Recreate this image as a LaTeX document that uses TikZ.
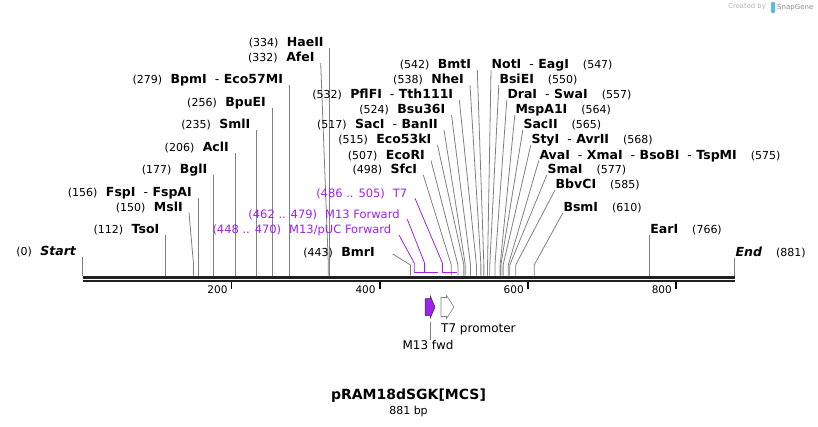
\documentclass[tikz,border=0pt]{standalone}
\usepackage{fontspec}
\setmainfont{DejaVu Sans}
\usepackage{tikz}

\definecolor{primer}{RGB}{160,32,240}
\definecolor{leadgray}{RGB}{128,128,128}
\definecolor{sgblue}{RGB}{100,180,230}
\newcommand\cutpos[1]{{\mdseries\fontsize{11}{13}\selectfont(#1)}}
\newcommand\cutsep{\hspace{8pt}{\mdseries-}\hspace{4.5pt}}

\begin{document}
\begin{tikzpicture}[
  x=1pt,y=-1pt,
  site/.style={anchor=south east,inner xsep=6pt,inner ysep=0pt,text height=9.5pt,text depth=1.1pt,font=\fontsize{12.5}{14}\selectfont\bfseries},
  siteR/.style={site,anchor=south west,inner xsep=0.5pt},
  primlab/.style={site,inner xsep=7.5pt,text=primer,font=\fontsize{11.5}{14}\selectfont},
  leader/.style={draw=leadgray,line width=0.8pt},
  pleader/.style={draw=primer,line width=0.8pt},
  feat/.style={font=\fontsize{12}{14}\selectfont,inner sep=1pt}
]
\useasboundingbox (0,0) rectangle (818,426);

\def\cutL#1#2#3{
  \coordinate (s#1) at ({82.5+0.7405*#1},275.5);
  \node[site] (l#1) at (#2) {\cutpos{#1}\hspace{8.5pt}#3};
  \draw[leader] (l#1.south east) -- (s#1 |- 0,265) -- (s#1);
}
\def\cutR#1#2#3{
  \coordinate (s#1) at ({82.5+0.7405*#1},275.5);
  \node[siteR] (l#1) at (#2) {#3\hspace{14pt}\cutpos{#1}};
  \draw[leader] (l#1.south west) -- (s#1 |- 0,265) -- (s#1);
}
\def\primerbar#1#2#3#4{
  \coordinate (p#1) at ({82.5+0.7405*#1},272.5);
  \coordinate (e#1) at ({82.5+0.7405*(#2+1)},272.5);
  \draw[primer,line width=1.8pt] (p#1) -- (e#1);
  \node[primlab] (m#1) at (#3) {(#1 .. #2)\hspace{8pt}#4};
  \draw[pleader] (m#1.south east) -- (p#1 |- 0,263) -- (p#1);
}

\cutL{0}{s0 |- 0,257}{\textit{Start}}
\cutL{112}{s112 |- 0,235}{TsoI}
\cutL{150}{189,212.5}{MslI}
\cutL{156}{s156 |- 0,198}{FspI\cutsep FspAI}
\cutL{177}{s177 |- 0,175}{BglI}
\cutL{206}{s206 |- 0,152.5}{AclI}
\cutL{235}{s235 |- 0,130}{SmlI}
\cutL{256}{s256 |- 0,107.5}{BpuEI}
\cutL{279}{s279 |- 0,85}{BpmI\cutsep Eco57MI}
\cutL{332}{320.7,63}{AfeI}
\cutL{334}{s334 |- 0,48}{HaeII}

\cutL{498}{423.3,175}{SfcI}
\cutL{507}{431,160.5}{EcoRI}
\cutL{515}{437.5,145}{Eco53kI}
\cutL{517}{444,130}{SacI\cutsep BanII}
\cutL{524}{451.5,115}{Bsu36I}
\cutL{532}{459.3,100}{PflFI\cutsep Tth111I}
\cutL{538}{470,85}{NheI}
\cutL{542}{477.3,70}{BmtI}

\cutR{547}{491,70}{NotI\cutsep EagI}
\cutR{550}{498.8,85}{BsiEI}
\cutR{557}{506.8,100}{DraI\cutsep SwaI}
\cutR{564}{514.8,115}{MspA1I}
\cutR{565}{522.8,130}{SacII}
\cutR{568}{530.8,145}{StyI\cutsep AvrII}
\cutR{575}{538.8,160.5}{AvaI\cutsep XmaI\cutsep BsoBI\cutsep TspMI}
\cutR{577}{546.8,175}{SmaI}
\cutR{585}{555,190}{BbvCI}
\cutR{610}{562.8,213}{BsmI}
\cutR{766}{s766 |- 0,235}{EarI}
\cutR{881}{s881 |- 0,258}{\textit{End}}

\coordinate (s443) at ({82.5+0.7405*443},275.5);
\node[site] (l443) at (381,258) {\cutpos{443}\hspace{8.5pt}BmrI};
\draw[leader] ([xshift=11.7pt,yshift=4pt]l443.south east) -- (s443 |- 0,265) -- (s443);

\primerbar{448}{470}{399,235}{M13/pUC Forward}
\primerbar{462}{479}{407.3,219.3}{M13 Forward}
\primerbar{486}{505}{415,198.3}{T7}

\draw[line width=2.6pt,black!87] (82.5,277.3) -- (735,277.3);
\draw[line width=1.8pt,black!87] (82.5,281) -- (735,281);

\foreach \t in {200,400,600,800}{
  \coordinate (k\t) at ({83.6+0.7405*\t},282);
  \draw[line width=1.4pt] (k\t) -- ++(0,6.5);
  \node[anchor=east,inner sep=0pt,font=\fontsize{10.5}{12}\selectfont] (n\t) at ({79.6+0.7405*\t},289.5) {\t};
}

\draw[fill=primer,draw=black!80,line width=0.5pt] (425,298.5) -- (430.3,298.5) -- (430.3,296) -- (435,307) -- (430.3,318) -- (430.3,315.5) -- (425,315.5) -- cycle;
\draw[fill=white,draw=leadgray,line width=0.6pt] (441,297.5) -- (446.5,297.5) -- (446.5,295.5) -- (454,307) -- (446.5,318.5) -- (446.5,316.5) -- (441,316.5) -- cycle;
\node[feat,anchor=west] (t7prom) at (440,329.5) {T7 promoter};
\node[feat] (m13fwd) at (428,345.5) {M13 fwd};
\coordinate (f13) at (430.5,322);
\draw[leader,line width=0.6pt] (f13) -- (f13 |- m13fwd.north);

\node[font=\fontsize{14}{16}\selectfont\bfseries] (title) at (408.5,395.5) {pRAM18dSGK[MCS]};
\node[font=\fontsize{11}{13}\selectfont] (length) at (408.5,411.5) {881 bp};

\node[anchor=east,inner sep=0pt,text=black!30,font=\fontsize{6.8}{8}\selectfont] (made) at (766,7) {Created by};
\fill[sgblue,rounded corners=1pt] (771,2) rectangle (775,13);
\node[anchor=west,inner sep=0pt,text=black!45,font=\fontsize{7}{9}\selectfont] (brand) at (777,7.5) {SnapGene};

\end{tikzpicture}
\end{document}
